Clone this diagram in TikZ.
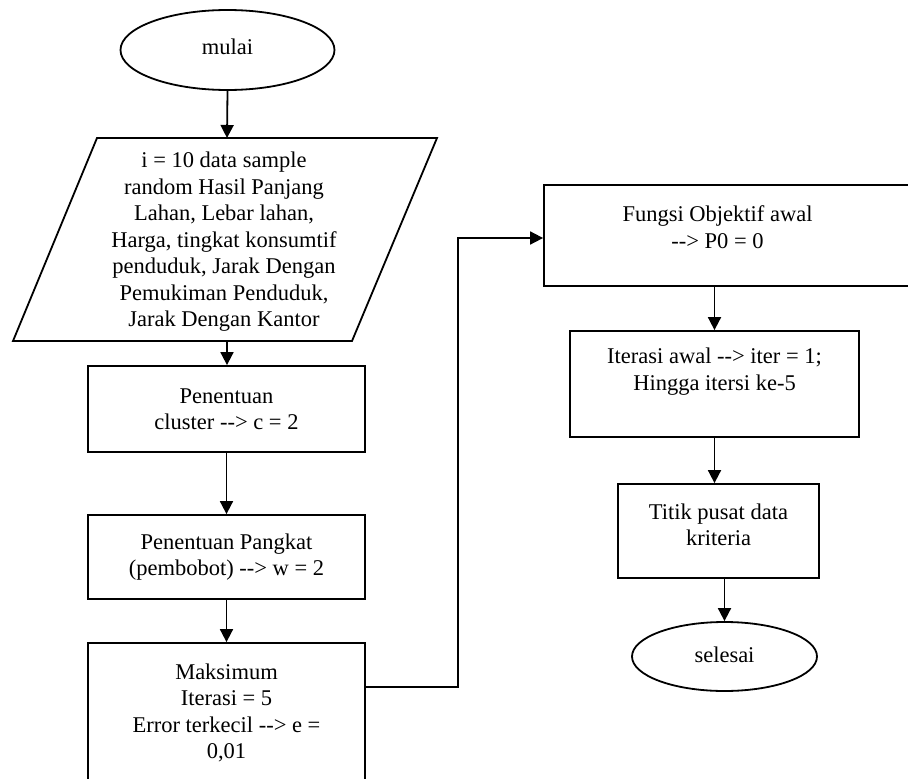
\documentclass[tikz,border=0pt]{standalone}
\usepackage{fontspec}
\setmainfont{Liberation Serif}
\usetikzlibrary{shapes.geometric,arrows.meta}
\tikzset{
  shp/.style={draw, line width=1.8pt, inner sep=0pt},
  boxr/.style={shp, rectangle},
  oval/.style={shp, ellipse},
  txt/.style={align=center, inner sep=0pt, font=\fontsize{22.5}{26.5}\selectfont},
  conn/.style={line width=1.8pt, -{Triangle[width=13pt,length=13pt]}},
  line/.style={line width=1.8pt}
}
\newcommand{\arr}{-{}-{}>}
\begin{document}
\begin{tikzpicture}[x=1pt,y=-1pt]
\useasboundingbox (0,0) rectangle (908,779);
% start
\node[oval, minimum width=214pt, minimum height=80pt] (mulai) at (227.5,50) {};
\node[txt] (tmulai) at (227.5,47) {mulai};
% input parallelogram
\coordinate (p1) at (97,138);
\coordinate (p2) at (437,138);
\coordinate (p3) at (352,341);
\coordinate (p4) at (13,341);
\coordinate (inTop) at (227,138);
\coordinate (inBot) at (227,341);
\draw[line, line join=miter] (p1) -- (p2) -- (p3) -- (p4) -- cycle;
\node[txt] (tin) at (224,242) {i = 10 data sample\\random Hasil Panjang\\Lahan, Lebar lahan,\\Harga, tingkat konsumtif\\penduduk,  Jarak Dengan\\Pemukiman Penduduk,\\Jarak Dengan Kantor};
% left column boxes
\node[boxr, minimum width=277pt, minimum height=86pt] (c1) at (226.5,409) {};
\node[txt] (tc1) at (226.5,409) {Penentuan\\cluster \arr{} c = 2};
\node[boxr, minimum width=277pt, minimum height=84pt] (c2) at (226.5,557) {};
\node[txt] (tc2) at (226.5,557) {Penentuan Pangkat\\(pembobot) \arr{} w = 2};
\node[boxr, minimum width=277pt, minimum height=200pt] (c3) at (226.5,743) {};
\node[txt] (tc3) at (226.5,713) {Maksimum\\Iterasi = 5\\Error terkecil \arr{} e =\\0,01};
% right column
\node[boxr, minimum width=380pt, minimum height=101pt] (f) at (734,235.5) {};
\node[txt] (tf) at (717.5,227) {Fungsi Objektif awal\\\arr{} P0 = 0};
\node[boxr, minimum width=289pt, minimum height=106pt] (it) at (714.5,384) {};
\node[txt] (tit) at (714.5,371.5) {Iterasi awal \arr{} iter = 1;\\Hingga itersi ke-5};
\node[boxr, minimum width=201pt, minimum height=94pt] (ti) at (718.5,531) {};
\node[txt] (tti) at (718.5,525) {Titik pusat data\\kriteria};
\node[oval, minimum width=185pt, minimum height=69pt] (sel) at (724.5,656.5) {};
\node[txt] (tsel) at (724.5,655) {selesai};
% connectors
\coordinate (j1) at (458,687);
\coordinate (j2) at (458,238);
\draw[conn] (mulai.south) -- (inTop);
\draw[conn] (inBot) -- (inBot |- c1.north);
\draw[conn] (c1.south) -- (c2.north);
\draw[conn] (c2.south) -- (c3.north);
\draw[conn] (c3.east |- j1) -- (j1) -- (j2) -- (j2 -| f.west);
\draw[conn] (it.north |- f.south) -- (it.north);
\draw[conn] (it.south) -- (it.south |- ti.north);
\draw[conn] (sel.north |- ti.south) -- (sel.north);
\end{tikzpicture}
\end{document}
